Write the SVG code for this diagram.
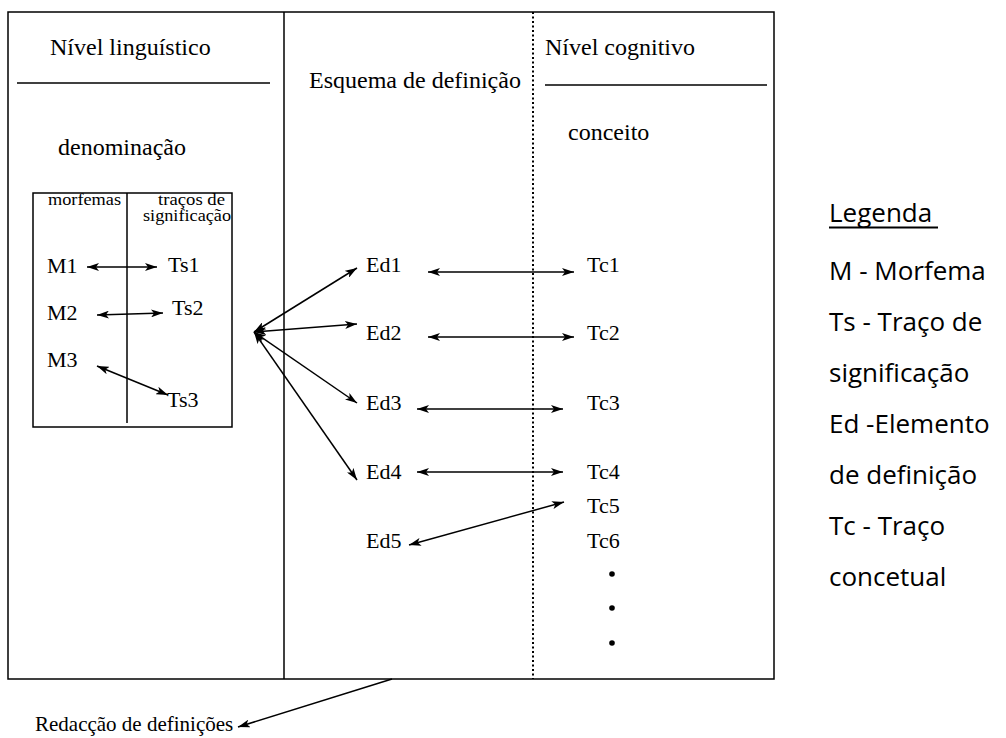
<svg xmlns="http://www.w3.org/2000/svg" width="1006" height="738" viewBox="0 0 1006 738">
<defs>
<marker id="ah" viewBox="0 0 12 8" refX="12" refY="4" markerWidth="12" markerHeight="8" markerUnits="userSpaceOnUse" orient="auto-start-reverse">
<path d="M0,0 L12,4 L0,8 L3,4 z" fill="#000"/>
</marker>
</defs>
<style>
.s{font-family:"Liberation Serif","Times New Roman",serif;fill:#000}
.h{font-size:24px}
.n{font-size:22px}
.sm{font-size:16px}
.lg{font-family:"Open Sans","Noto Sans",sans-serif;font-size:26px;fill:#000}
.ln{stroke:#000;stroke-width:1.5;fill:none}
.c{stroke:#000;stroke-width:1.5;fill:none;marker-start:url(#ah);marker-end:url(#ah)}
.c1{stroke:#000;stroke-width:1.5;fill:none;marker-end:url(#ah)}
</style>
<rect width="1006" height="738" fill="#fff"/>
<g id="frame">
<rect x="8" y="12" width="766" height="667" class="ln"/>
<line x1="284" y1="12" x2="284" y2="679" class="ln"/>
<line x1="533" y1="12" x2="533" y2="679" stroke="#000" stroke-width="2" stroke-dasharray="2 2.5"/>
<line x1="17" y1="83" x2="270" y2="83" class="ln"/>
<line x1="545" y1="85" x2="767" y2="85" class="ln"/>
</g>
<g id="headers">
<text class="s h" x="50" y="55">Nível linguístico</text>
<text class="s h" x="58" y="155">denominação</text>
<text class="s h" x="309" y="88">Esquema de definição</text>
<text class="s h" x="545" y="55">Nível cognitivo</text>
<text class="s h" x="568" y="140">conceito</text>
</g>
<g id="inner-box">
<rect x="33" y="193" width="199" height="234" class="ln"/>
<line x1="127" y1="193" x2="127" y2="423" class="ln"/>
<text class="s sm" x="48" y="205" textLength="73" lengthAdjust="spacingAndGlyphs">morfemas</text>
<text class="s sm" x="158" y="205" textLength="67" lengthAdjust="spacingAndGlyphs">traços de</text>
<text class="s sm" x="143" y="221" textLength="88" lengthAdjust="spacingAndGlyphs">significação</text>
</g>
<g id="M1"><text class="s n" x="47" y="273">M1</text></g>
<g id="M2"><text class="s n" x="47" y="320">M2</text></g>
<g id="M3"><text class="s n" x="47" y="367">M3</text></g>
<g id="Ts1"><text class="s n" x="168" y="272">Ts1</text></g>
<g id="Ts2"><text class="s n" x="172" y="315">Ts2</text></g>
<g id="Ts3"><text class="s n" x="167" y="407">Ts3</text></g>
<g id="Ed1"><text class="s n" x="366" y="272">Ed1</text></g>
<g id="Ed2"><text class="s n" x="366" y="340">Ed2</text></g>
<g id="Ed3"><text class="s n" x="366" y="410">Ed3</text></g>
<g id="Ed4"><text class="s n" x="366" y="479">Ed4</text></g>
<g id="Ed5"><text class="s n" x="366" y="548">Ed5</text></g>
<g id="Tc1"><text class="s n" x="587" y="272">Tc1</text></g>
<g id="Tc2"><text class="s n" x="587" y="340">Tc2</text></g>
<g id="Tc3"><text class="s n" x="587" y="410">Tc3</text></g>
<g id="Tc4"><text class="s n" x="587" y="479">Tc4</text></g>
<g id="Tc5"><text class="s n" x="587" y="513">Tc5</text></g>
<g id="Tc6"><text class="s n" x="587" y="548">Tc6</text></g>
<g id="dots">
<circle cx="612" cy="574" r="2.8"/>
<circle cx="612" cy="608" r="2.8"/>
<circle cx="612" cy="643" r="2.8"/>
</g>
<g id="redaccao"><text class="s" font-size="21" x="35" y="731">Redacção de definições</text></g>
<g id="legend">
<text class="lg" x="829" y="222">Legenda</text>
<line x1="829" y1="227.5" x2="938" y2="227.5" stroke="#000" stroke-width="2"/>
<text class="lg" x="829" y="280">M - Morfema</text>
<text class="lg" x="829" y="331">Ts - Traço de</text>
<text class="lg" x="829" y="382">significação</text>
<text class="lg" x="829" y="433">Ed -Elemento</text>
<text class="lg" x="829" y="484">de definição</text>
<text class="lg" x="829" y="535">Tc - Traço</text>
<text class="lg" x="829" y="586">concetual</text>
</g>
<g id="connectors">
<line x1="87" y1="267" x2="157" y2="267" class="c"/>
<line x1="97" y1="315" x2="163" y2="313" class="c"/>
<line x1="97" y1="366" x2="168" y2="395" class="c"/>
<line x1="254" y1="332" x2="357" y2="268" class="c"/>
<line x1="254" y1="332" x2="357" y2="324" class="c"/>
<line x1="254" y1="332" x2="357" y2="403" class="c"/>
<line x1="254" y1="332" x2="357" y2="480" class="c"/>
<line x1="428" y1="272" x2="574" y2="272" class="c"/>
<line x1="428" y1="337" x2="574" y2="337" class="c"/>
<line x1="417" y1="409" x2="563" y2="409" class="c"/>
<line x1="417" y1="472" x2="563" y2="472" class="c"/>
<line x1="409" y1="545" x2="564" y2="502" class="c"/>
<line x1="392" y1="679" x2="238" y2="727" class="c1"/>
</g>
</svg>
